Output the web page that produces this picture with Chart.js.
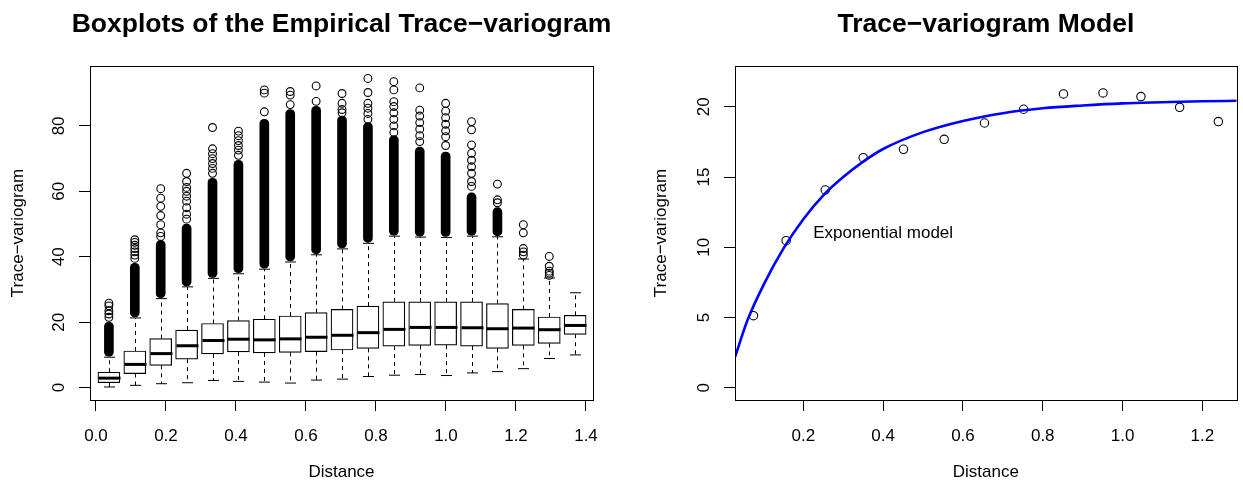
<!DOCTYPE html>
<html>
<head>
<meta charset="utf-8">
<title>Trace-variogram</title>
<script src="https://cdn.jsdelivr.net/npm/chart.js@4.4.0/dist/chart.umd.min.js"></script>
<style>
  body { margin: 0; background: #fff; }
  #wrap { position: relative; width: 1243px; height: 485px; }
  canvas { position: absolute; top: 0; }
  #boxplot-chart { left: 0; }
  #model-chart { left: 621px; }
</style>
</head>
<body>
<div id="wrap">
  <canvas id="boxplot-chart" width="621" height="485"></canvas>
  <canvas id="model-chart" width="622" height="485"></canvas>
</div>
<script>
// ---- left panel: boxplots per distance bin ----
var binCenters   = [0.037, 0.111, 0.185, 0.259, 0.333, 0.407, 0.481, 0.555, 0.629, 0.703,
                    0.777, 0.851, 0.925, 0.999, 1.073, 1.147, 1.221, 1.295, 1.369];
var lowerWhisker = [0.2, 0.7, 1.2, 1.5, 2.2, 1.9, 1.7, 1.4, 2.3, 2.6, 3.4, 3.8, 4.0, 3.7, 4.5, 4.9, 5.8, 8.9, 10.0];
var lowerQuart   = [1.5, 4.3, 6.8, 8.7, 10.3, 10.9, 10.6, 10.8, 11.0, 11.5, 12.0, 12.7, 12.9, 13.0, 12.7, 12.0, 12.9, 13.5, 16.3];
var medians      = [2.9, 7.1, 10.4, 12.8, 14.4, 14.8, 14.6, 14.9, 15.4, 16.0, 16.8, 17.8, 18.4, 18.4, 18.3, 18.0, 18.2, 17.7, 19.0];
var upperQuart   = [4.7, 11.2, 15.0, 17.6, 19.6, 20.5, 20.9, 21.9, 22.9, 23.9, 24.9, 26.2, 26.2, 26.2, 26.2, 25.7, 23.9, 21.6, 22.1];
var upperWhisker = [9.3, 21.3, 27.2, 30.8, 33.4, 34.8, 36.2, 38.4, 40.6, 42.4, 44.1, 46.3, 46.0, 45.9, 46.3, 46.1, 39.3, 33.5, 29.0];
// solid runs of overlapping outliers [from, to]; null where there is none
var outlierRuns  = [[9.6, 20], [21.6, 38], [27.5, 45], [31.1, 50], [33.7, 64], [35.1, 69.5], [36.5, 82],
                    [38.7, 85], [40.9, 86], [42.7, 83], [44.4, 81], [46.6, 77], [46.3, 73.5], [46.2, 72],
                    [46.6, 59.5], [46.4, 55], null, null, null];
// single outliers that stand apart
var outlierDots  = [
  [21.5, 22.5, 23.5, 25.0, 25.8],
  [39.5, 40.5, 41.5, 42.5, 43.5, 44.4, 45.2],
  [46.2, 47.3, 49.8, 52.6, 55.4, 57.9, 60.8],
  [51.5, 53, 55, 57, 58.5, 60, 61.2, 63, 65.5],
  [65.5, 67, 68.5, 70, 71.5, 73, 79.5],
  [71, 72.6, 74, 75.5, 77, 78.4],
  [84.3, 90, 91],
  [86.5, 89.4, 90.5],
  [87.5, 92.2],
  [84, 85, 86.9, 89.9],
  [82, 83.8, 85.4, 86.9, 90.2, 94.5],
  [78, 80, 82, 84, 85.9, 87.4, 91, 93.5],
  [75.2, 77, 79, 81, 83, 84.8, 91.6],
  [74, 76.7, 78.5, 80.5, 82.5, 84.5, 86.9],
  [61.5, 63, 65.5, 67.5, 69.5, 71.6, 74.2, 78.8, 81.3],
  [56.5, 57.4, 62.2],
  [40.5, 41.5, 42.5, 47.3, 49.8],
  [34.3, 35.0, 35.6, 37.1, 40.1],
  []
];

// ---- right panel: empirical points and fitted exponential model ----
var empDist  = [0.075, 0.157, 0.255, 0.350, 0.451, 0.553, 0.654, 0.752, 0.852, 0.951, 1.046, 1.143, 1.240];
var empGamma = [5.13, 10.47, 14.08, 16.38, 16.98, 17.69, 18.85, 19.83, 20.92, 20.99, 20.73, 19.97, 18.95];
var modelDist  = [0.029, 0.06, 0.1, 0.15, 0.2, 0.25, 0.3, 0.35, 0.4, 0.5, 0.6, 0.7, 0.8, 0.9, 1.0, 1.1, 1.2, 1.286];
var modelGamma = [2.2, 4.8, 7.3, 9.9, 12.0, 13.7, 15.0, 16.1, 17.0, 18.2, 19.0, 19.55, 19.9, 20.1, 20.25, 20.33, 20.4, 20.43];
var modelLabel = {x: 0.4, y: 11, text: 'Exponential model'};

var FONT = '"Liberation Sans", Arial, Helvetica, sans-serif';

/***************************************************************************************************
 * shared bits: R-like frame, main title, rotated y tick labels, axes
 */
var rFrame = {
    id: 'rFrame',
    afterDraw: function(chart, args, opts){
        var ctx = chart.ctx, a = chart.chartArea, ys = chart.scales.y;
        ctx.save();
        ctx.strokeStyle = '#000';
        ctx.lineWidth = 1;
        ctx.strokeRect(Math.round(a.left) + 0.5, Math.round(a.top) + 0.5,
                       Math.round(a.right - a.left), Math.round(a.bottom - a.top));
        ctx.fillStyle = '#000';
        // main title, centred over the plot region like R does (not squeezed to fit)
        ctx.font = 'bold 26.5px ' + FONT;
        ctx.textAlign = 'center';
        ctx.textBaseline = 'middle';
        ctx.fillText(opts.main, (a.left + a.right) / 2, 25);
        ctx.font = '17px ' + FONT;
        ys.ticks.forEach(function(t){
            ctx.save();
            ctx.translate(a.left - 31, ys.getPixelForValue(t.value));
            ctx.rotate(-Math.PI / 2);
            ctx.fillText(String(t.value), 0, 0);
            ctx.restore();
        });
        ctx.restore();
    }
};

function xAxis(min, max, step){
    return {
        type: 'linear', min: min, max: max, offset: false,
        ticks: { stepSize: step, includeBounds: false, padding: 15, maxRotation: 0,
                 callback: function(v){ return v.toFixed(1); } },
        grid: { display: true, offset: false, drawOnChartArea: false, drawTicks: true, tickLength: 11, color: '#000' },
        border: { display: false },
        title: { display: true, text: 'Distance', padding: { top: 0, bottom: 2 } },
        afterFit: function(s){ s.height = 85; }
    };
}

function yAxis(min, max, step, width, titlePad){
    return {
        type: 'linear', min: min, max: max,
        ticks: { stepSize: step, includeBounds: false, display: false },
        grid: { display: true, drawOnChartArea: false, drawTicks: true, tickLength: 11, color: '#000' },
        border: { display: false },
        title: { display: true, text: 'Trace\u2212variogram', padding: { top: titlePad, bottom: 0 } },
        afterFit: function(s){ s.width = width; }
    };
}

/***************************************************************************************************
 * Left: boxplots of the empirical trace-variogram
 */
var boxDetails = {
    id: 'boxDetails',
    afterDatasetsDraw: function(chart){
        var xs = chart.scales.x, ys = chart.scales.y, ctx = chart.ctx;
        var half = 11, cap = 5.5;
        function seg(x1, y1, x2, y2){ ctx.beginPath(); ctx.moveTo(x1, y1); ctx.lineTo(x2, y2); ctx.stroke(); }
        ctx.save();
        ctx.strokeStyle = '#000';
        binCenters.forEach(function(c, i){
            var x = Math.round(xs.getPixelForValue(c)) + 0.5;
            var uw = ys.getPixelForValue(upperWhisker[i]), lw = ys.getPixelForValue(lowerWhisker[i]);
            ctx.lineWidth = 1;
            ctx.setLineDash([4, 4]);
            seg(x, ys.getPixelForValue(upperQuart[i]), x, uw);
            seg(x, ys.getPixelForValue(lowerQuart[i]), x, lw);
            ctx.setLineDash([]);
            seg(x - cap, uw, x + cap, uw);
            seg(x - cap, lw, x + cap, lw);
            ctx.lineWidth = 3;
            var m = ys.getPixelForValue(medians[i]);
            seg(x - half, m, x + half, m);
        });
        ctx.restore();
    }
};

function createBoxplotChart(){
    var boxes = [], runs = [], dots = [];
    binCenters.forEach(function(c, i){
        boxes.push({x: c, y: [lowerQuart[i], upperQuart[i]]});
        if (outlierRuns[i]) runs.push({x: c, y: outlierRuns[i]});
        outlierDots[i].forEach(function(v){ dots.push({x: c, y: v}); });
    });

    new Chart(document.getElementById('boxplot-chart'), {
        type: 'bar',
        data: {
          datasets: [
            { type: 'bar', data: runs, grouped: false, barThickness: 9, maxBarThickness: 9,
              backgroundColor: '#000', borderColor: '#000', borderWidth: 0,
              borderSkipped: false, borderRadius: 4.5, order: 3 },
            { type: 'scatter', data: dots, pointStyle: 'circle', pointRadius: 3.9,
              pointBorderWidth: 1.1, pointBorderColor: '#000', pointBackgroundColor: 'rgba(0,0,0,0)', order: 2 },
            { type: 'bar', data: boxes, grouped: false, barThickness: 22, maxBarThickness: 22,
              backgroundColor: '#fff', borderColor: '#000', borderWidth: 1.2,
              borderSkipped: false, order: 1 }
          ]
        },
        options: {
          responsive: false,
          animation: false,
          events: [],
          layout: { padding: { left: 0, right: 28, top: 66, bottom: 0 } },
          scales: {
            x: xAxis(-0.017, 1.42, 0.2),
            y: yAxis(-3.78, 98.3, 20, 90, 8)
          },
          plugins: {
            rFrame: { main: 'Boxplots of the Empirical Trace\u2212variogram' },
            legend: { display: false },
            tooltip: { enabled: false }
          }
        },
        plugins: [boxDetails, rFrame]
    });
}

/***************************************************************************************************
 * Right: fitted model
 */
var modelText = {
    id: 'modelText',
    afterDatasetsDraw: function(chart){
        var ctx = chart.ctx;
        ctx.save();
        ctx.fillStyle = '#000';
        ctx.font = '17px ' + FONT;
        ctx.textAlign = 'center';
        ctx.textBaseline = 'middle';
        ctx.fillText(modelLabel.text, chart.scales.x.getPixelForValue(modelLabel.x),
                     chart.scales.y.getPixelForValue(modelLabel.y));
        ctx.restore();
    }
};

function createModelChart(){
    var curve = modelDist.map(function(d, i){ return {x: d, y: modelGamma[i]}; });
    var pts = empDist.map(function(d, i){ return {x: d, y: empGamma[i]}; });

    new Chart(document.getElementById('model-chart'), {
        type: 'scatter',
        data: {
          datasets: [
            { data: curve, showLine: true, borderColor: '#0000ff', borderWidth: 2.6,
              pointRadius: 0, cubicInterpolationMode: 'monotone', fill: false },
            { data: pts, pointStyle: 'circle', pointRadius: 4.2, pointBorderWidth: 1.1,
              pointBorderColor: '#000', pointBackgroundColor: 'rgba(0,0,0,0)' }
          ]
        },
        options: {
          responsive: false,
          animation: false,
          events: [],
          layout: { padding: { left: 0, right: 6.3, top: 66, bottom: 0 } },
          scales: {
            x: xAxis(0.0288, 1.286, 0.2),
            y: yAxis(-0.876, 22.91, 5, 114, 30.5)
          },
          plugins: {
            rFrame: { main: 'Trace\u2212variogram Model' },
            legend: { display: false },
            tooltip: { enabled: false }
          }
        },
        plugins: [modelText, rFrame]
    });
}

function initializeApp(){
    Chart.defaults.font.family = FONT;
    Chart.defaults.font.size = 17;
    Chart.defaults.color = '#000';
    createBoxplotChart();
    createModelChart();
}

initializeApp();
</script>
</body>
</html>
